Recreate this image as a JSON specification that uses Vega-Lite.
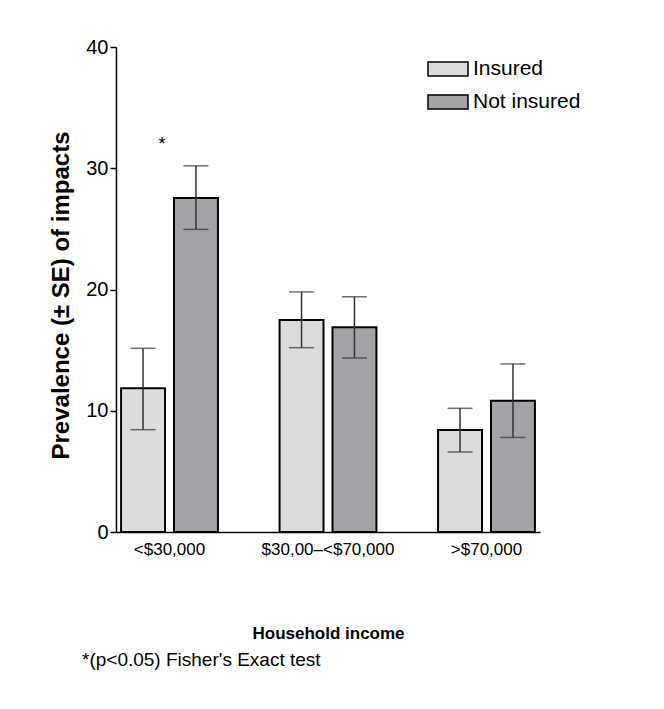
{
  "$schema": "https://vega.github.io/schema/vega-lite/v6.json",
  "width": 424,
  "height": 485,
  "autosize": {"type": "none"},
  "padding": {"left": 116, "top": 47, "right": 124, "bottom": 177},
  "background": "white",
  "config": {
    "font": "Liberation Sans",
    "view": {"stroke": null},
    "axis": {"grid": false, "domainColor": "black", "tickColor": "black", "labelColor": "black", "titleColor": "black", "labelFont": "Liberation Sans", "titleFont": "Liberation Sans"}
  },
  "title": {"text": "*(p<0.05) Fisher's Exact test", "orient": "bottom", "anchor": "start", "frame": "group", "dx": -34, "offset": 10, "fontSize": 19, "fontWeight": "normal", "color": "black", "font": "Liberation Sans"},
  "datasets": {
    "bars": [
      {"income": "<$30,000", "group": "Insured", "value": 11.85, "lo": 8.44, "hi": 15.15},
      {"income": "<$30,000", "group": "Not insured", "value": 27.55, "lo": 24.96, "hi": 30.2},
      {"income": "$30,00–<$70,000", "group": "Insured", "value": 17.48, "lo": 15.2, "hi": 19.8},
      {"income": "$30,00–<$70,000", "group": "Not insured", "value": 16.88, "lo": 14.35, "hi": 19.4},
      {"income": ">$70,000", "group": "Insured", "value": 8.41, "lo": 6.6, "hi": 10.2},
      {"income": ">$70,000", "group": "Not insured", "value": 10.83, "lo": 7.8, "hi": 13.86}
    ],
    "notes": [
      {"income": "<$30,000", "group": "Insured", "y": 31.9, "label": "*"}
    ]
  },
  "data": {"name": "bars"},
  "encoding": {
    "x": {
      "field": "income", "type": "nominal", "sort": ["<$30,000", "$30,00–<$70,000", ">$70,000"],
      "scale": {"paddingInner": 0.389, "paddingOuter": 0.032},
      "axis": {"title": "Household income", "labelAngle": 0, "ticks": false, "labelFontSize": 17, "labelPadding": 9, "titleFontSize": 17, "titleFontWeight": "bold", "titlePadding": 68, "domainWidth": 1.5}
    },
    "xOffset": {"field": "group", "type": "nominal", "sort": ["Insured", "Not insured"], "scale": {"paddingInner": 0.17, "paddingOuter": 0}}
  },
  "layer": [
    {
      "mark": {"type": "bar", "stroke": "black", "strokeWidth": 2},
      "encoding": {
        "y": {
          "field": "value", "type": "quantitative",
          "scale": {"domain": [0, 40], "nice": false},
          "axis": {"title": "Prevalence (± SE) of impacts", "values": [0, 10, 20, 30, 40], "tickSize": 6, "labelFontSize": 20, "labelPadding": 2, "titleFontSize": 24, "titleFontWeight": "bold", "titlePadding": 12, "titleY": 248, "domainWidth": 1.5, "tickWidth": 1.5}
        },
        "fill": {
          "field": "group", "type": "nominal",
          "scale": {"domain": ["Insured", "Not insured"], "range": ["#dcdcdc", "#a3a2a7"]},
          "legend": {"title": null, "orient": "none", "legendX": 311, "legendY": 1, "symbolType": "M-1,-0.35H1V0.35H-1Z", "symbolSize": 1600, "symbolStrokeColor": "black", "symbolStrokeWidth": 1.5, "labelFontSize": 21, "labelColor": "black", "labelOffset": 4, "rowPadding": 2, "symbolOpacity": 1}
        }
      }
    },
    {
      "mark": {"type": "rule", "color": "#333333", "strokeWidth": 1.5},
      "encoding": {
        "y": {"field": "lo", "type": "quantitative"},
        "y2": {"field": "hi"}
      }
    },
    {
      "mark": {"type": "tick", "color": "#333333", "thickness": 1.5, "size": 25, "orient": "horizontal"},
      "encoding": {"y": {"field": "lo", "type": "quantitative"}}
    },
    {
      "mark": {"type": "tick", "color": "#333333", "thickness": 1.5, "size": 25, "orient": "horizontal"},
      "encoding": {"y": {"field": "hi", "type": "quantitative"}}
    },
    {
      "data": {"name": "notes"},
      "mark": {"type": "text", "fontSize": 18, "color": "black", "dx": 19, "baseline": "middle"},
      "encoding": {
        "y": {"field": "y", "type": "quantitative"},
        "text": {"field": "label"}
      }
    }
  ]
}
